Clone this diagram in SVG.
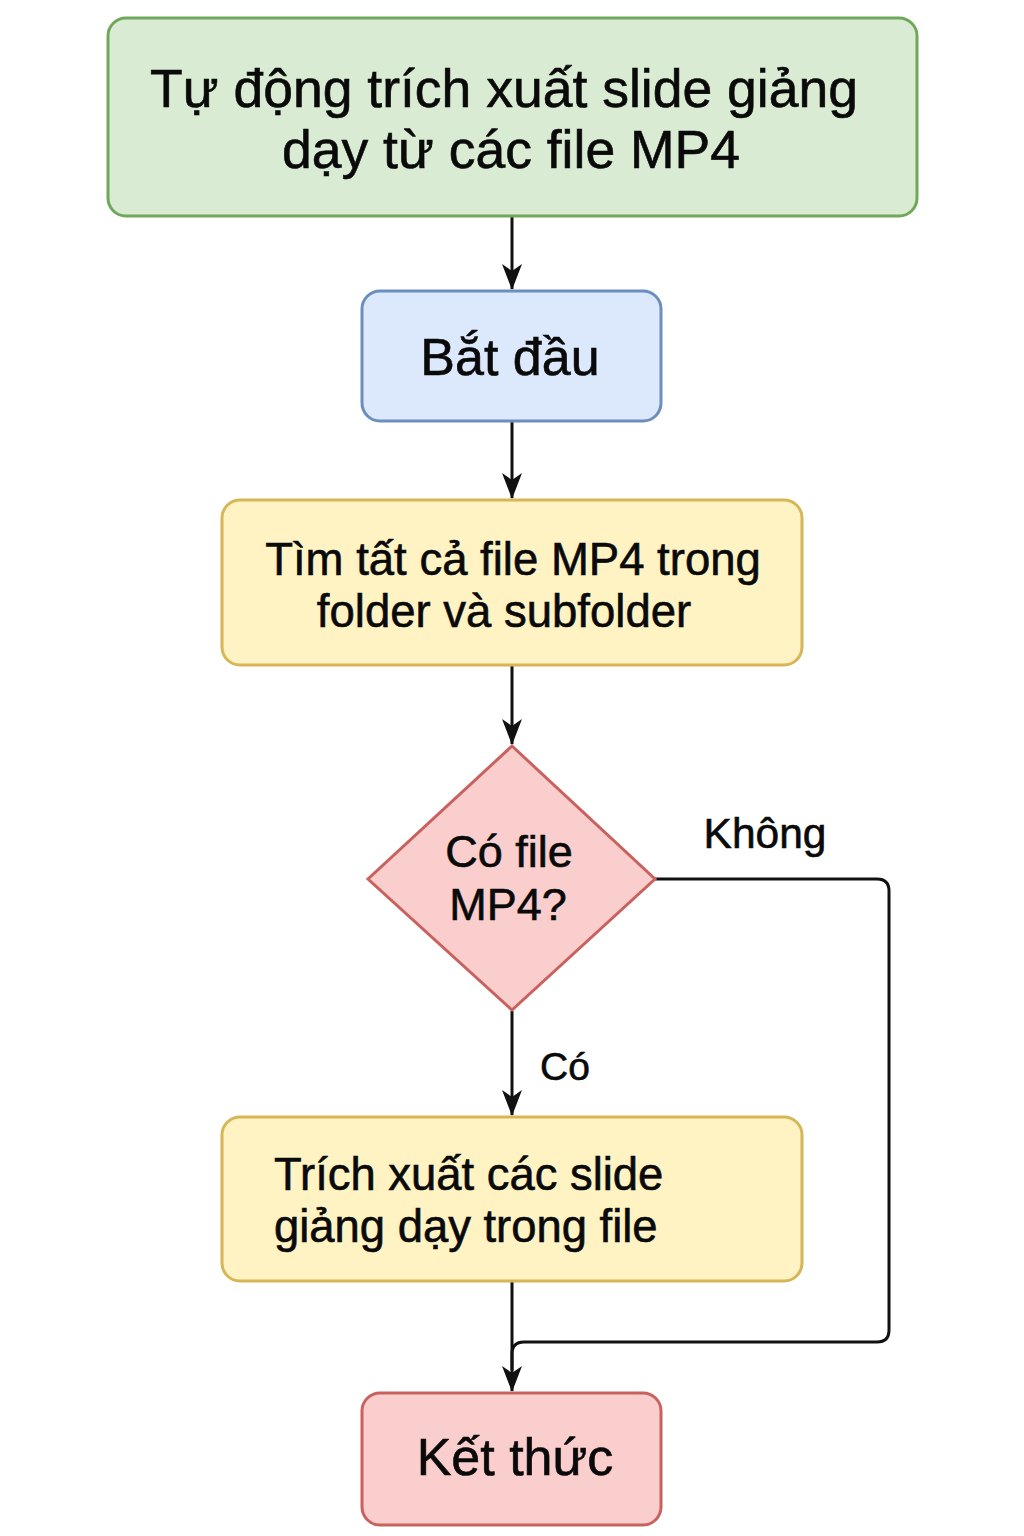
<svg xmlns="http://www.w3.org/2000/svg" width="1024" height="1536" viewBox="0 0 1024 1536">
<style>
text{font-family:"Liberation Sans","Noto Sans",sans-serif;fill:#0a0a0a;stroke:#0a0a0a;stroke-width:0.6;}
.c{text-anchor:middle;}
.edge{fill:none;stroke:#111;stroke-width:3;}
.green{fill:#d9ecd3;stroke:#6fa85a;stroke-width:3;}
.blue{fill:#dce8fc;stroke:#6c8ebf;stroke-width:3;}
.yellow{fill:#fff3c4;stroke:#d6b656;stroke-width:3;}
.red{fill:#f9cecc;stroke:#c9625e;stroke-width:3;}
</style>
<defs>
<marker id="arr" viewBox="0 0 26 22" refX="25" refY="11" markerWidth="26" markerHeight="22" markerUnits="userSpaceOnUse" orient="auto">
<path d="M0,1 L26,11 L0,21 L7,11 Z" fill="#111"/>
</marker>
</defs>
<g id="connectors">
<line class="edge" x1="512" y1="217" x2="512" y2="289" marker-end="url(#arr)"/>
<line class="edge" x1="512" y1="422" x2="512" y2="498" marker-end="url(#arr)"/>
<line class="edge" x1="512" y1="666" x2="512" y2="744" marker-end="url(#arr)"/>
<line class="edge" x1="512" y1="1011" x2="512" y2="1115" marker-end="url(#arr)"/>
<line class="edge" x1="512" y1="1282" x2="512" y2="1391" marker-end="url(#arr)"/>
<path class="edge" d="M655,879 H877 Q889,879 889,891 V1330 Q889,1342 877,1342 H524 Q512,1342 512,1354 V1370"/>
<text x="765" y="848" class="c" font-size="42.5">Không</text>
<text x="565" y="1080" class="c" font-size="39">Có</text>
</g>
<g id="title">
<rect class="green" x="108" y="18" width="809" height="198" rx="18"/>
<text x="504" y="107" class="c" font-size="53.5">Tự động trích xuất slide giảng</text>
<text x="511" y="168" class="c" font-size="53.5">dạy từ các file MP4</text>
</g>
<g id="start">
<rect class="blue" x="362" y="291" width="299" height="130" rx="18"/>
<text x="510" y="375" class="c" font-size="52">Bắt đầu</text>
</g>
<g id="find">
<rect class="yellow" x="222" y="500" width="580" height="165" rx="18"/>
<text x="513" y="575" class="c" font-size="45.5">Tìm tất cả file MP4 trong</text>
<text x="504" y="627" class="c" font-size="45.5">folder và subfolder</text>
</g>
<g id="decision">
<polygon class="red" points="512,746 655,879 512,1010 368,879"/>
<text x="509" y="867" class="c" font-size="45">Có file</text>
<text x="508" y="920" class="c" font-size="45">MP4?</text>
</g>
<g id="extract">
<rect class="yellow" x="222" y="1117" width="580" height="164" rx="18"/>
<text x="274" y="1190" font-size="45.4">Trích xuất các slide</text>
<text x="274" y="1242" font-size="45.4">giảng dạy trong file</text>
</g>
<g id="end">
<rect class="red" x="362" y="1393" width="299" height="132" rx="18"/>
<text x="515" y="1475" class="c" font-size="52">Kết thức</text>
</g>
</svg>
